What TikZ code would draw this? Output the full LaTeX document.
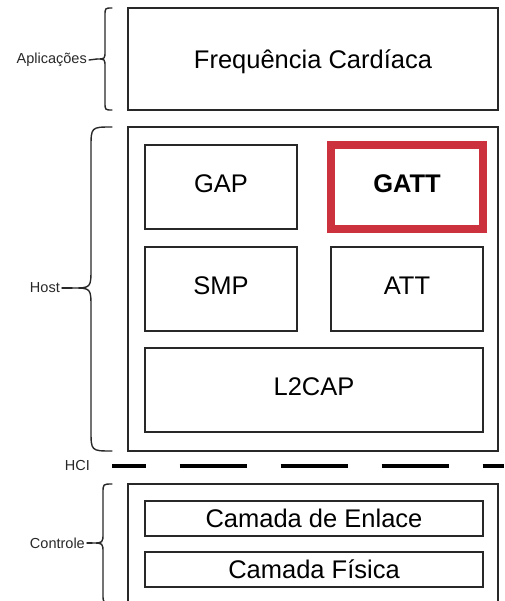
\documentclass[tikz,border=0pt]{standalone}
\usepackage{fontspec}
\setmainfont{Liberation Sans}
\definecolor{ink}{RGB}{40,40,40}
\definecolor{gattred}{RGB}{204,50,62}
\begin{document}
\begin{tikzpicture}[x=1pt,y=-1pt,
  layer/.style={draw=ink, line width=1.5pt, rectangle, inner sep=0pt, outer sep=0pt,
    anchor=north west, text=black, text height=18.3pt, text depth=0pt,
    font=\fontsize{25.5}{30}\selectfont},
  module/.style={layer, text depth=7pt},
  hot/.style={module, draw=gattred, line width=8pt, font=\fontsize{25.5}{30}\selectfont\bfseries},
  side/.style={anchor=east, inner sep=2pt, text=ink, font=\fontsize{14.5}{17}\selectfont},
  brace/.style={draw=ink, line width=1.4pt, line cap=round, line join=round},
  busline/.style={draw=black, line width=4pt, dash pattern=on 67pt off 34pt, dash phase=33.5pt}
]
\clip (0,0) rectangle (504,601);

% application layer
\node[layer, minimum width=370pt, minimum height=102pt] (app) at (128,8) {Frequência Cardíaca};

% host stack
\node[layer, minimum width=370pt, minimum height=324pt] (host) at (128,127) {};
\node[module, minimum width=152pt, minimum height=84pt] (gap) at (145,145) {GAP};
\node[hot, minimum width=152pt, minimum height=84pt] (gatt) at (331,145) {GATT};
\node[module, minimum width=152pt, minimum height=84pt] (smp) at (145,247) {SMP};
\node[module, minimum width=152pt, minimum height=84pt] (att) at (331,247) {ATT};
\node[module, minimum width=338pt, minimum height=84pt] (l2cap) at (145,348) {L2CAP};

% controller stack
\node[layer, minimum width=370pt, minimum height=130pt] (ctrl) at (128,484) {};
\node[layer, minimum width=338pt, minimum height=35pt] (enlace) at (145,501) {Camada de Enlace};
\node[layer, minimum width=338pt, minimum height=35pt] (fisica) at (145,552) {Camada Física};

% side labels
\node[side] (lapp) at (89,60) {Aplicações};
\node[side] (lhost) at (62,288) {Host};
\node[side] (lhci) at (92,466) {HCI};
\node[side] (lctrl) at (87,543) {Controle};

% braces
\coordinate (tapp) at (97,59);
\coordinate (thost) at (72,288);
\coordinate (tctrl) at (92,543);
\path[brace] (112,8) .. controls (105,8) .. (105,16) -- (105,51)
  .. controls (105,59) .. (tapp) .. controls (105,59) .. (105,67) -- (105,102)
  .. controls (105,110) .. (112,110);
\path[brace] (112,127) .. controls (91,127) .. (91,148) -- (91,268)
  .. controls (91,288) .. (thost) .. controls (91,288) .. (91,308) -- (91,430)
  .. controls (91,451) .. (112,451);
\path[brace] (112,484) .. controls (103,484) .. (103,493) -- (103,533)
  .. controls (103,543) .. (tctrl) .. controls (103,543) .. (103,553) -- (103,594)
  .. controls (103,603) .. (112,603);
\draw[brace] (lapp.east) -- (tapp);
\draw[brace] (lhost.east) -- (thost);
\draw[brace] (lctrl.east) -- (tctrl);

% HCI boundary
\coordinate (hcia) at (112,466);
\coordinate (hcib) at (504,466);
\draw[busline] (hcia) -- (hcib);
\end{tikzpicture}
\end{document}
